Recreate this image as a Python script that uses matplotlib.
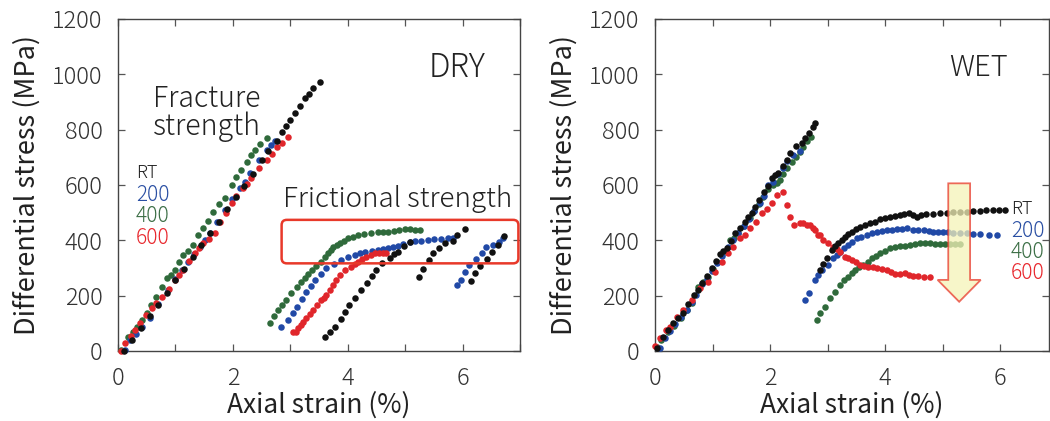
import matplotlib
matplotlib.use("Agg")
import matplotlib.pyplot as plt
import matplotlib.patches as mpatches
from matplotlib.ticker import MultipleLocator

plt.rcParams['font.family'] = ['Noto Sans CJK JP', 'DejaVu Sans']
plt.rcParams['font.weight'] = 'light'

# ---- DRY: axial strain (%) vs differential stress (MPa) ----
dry_rt_x = [0.10, 0.25, 0.40, 0.55, 0.70, 0.85, 1.00, 1.15, 1.30, 1.45, 1.60, 1.75, 1.90, 2.05,
            2.20, 2.35, 2.50, 2.62, 2.76, 2.85, 2.93, 3.00, 3.08, 3.17, 3.25, 3.33, 3.40, 3.51,
            3.60, 3.69, 3.77, 3.88, 3.95, 4.02, 4.12, 4.23, 4.34, 4.42, 4.50, 4.59, 4.73, 4.80,
            4.87, 4.98, 5.08,
            5.24, 5.31, 5.41, 5.48, 5.59, 5.69, 5.83, 5.90, 6.05,
            6.14, 6.22, 6.31, 6.42, 6.51, 6.61, 6.73]
dry_rt_y = [0, 38, 82, 125, 168, 210, 255, 298, 340, 382, 425, 468, 512, 555,
            598, 640, 690, 722, 760, 790, 815, 835, 859, 885, 915, 930, 949, 973,
            52, 70, 88, 116, 140, 166, 190, 220, 247, 270, 293, 317, 335, 350,
            359, 379, 395,
            269, 295, 329, 353, 371, 389, 399, 419, 440,
            253, 281, 307, 331, 359, 383, 416]

dry_200_x = [0.12, 0.21, 0.32, 0.41, 0.56, 0.70, 0.87, 1.00, 1.11, 1.22, 1.33, 1.43, 1.52, 1.60,
             1.73, 1.86, 1.98, 2.12, 2.21, 2.30, 2.45, 2.59, 2.66, 2.73,
             2.83, 2.96, 3.04, 3.11, 3.20, 3.28, 3.36, 3.43, 3.53, 3.63, 3.76, 3.89, 4.00, 4.12,
             4.21, 4.30, 4.42, 4.53, 4.62, 4.70, 4.79, 4.87, 4.97, 5.08, 5.18, 5.28, 5.40, 5.51,
             5.62, 5.74, 5.83,
             5.90, 5.98, 6.05, 6.12, 6.24, 6.33, 6.41, 6.53, 6.64, 6.70]
dry_200_y = [5, 40, 62, 88, 118, 170, 220, 260, 293, 323, 350, 377, 400, 425,
             468, 510, 548, 588, 612, 642, 690, 726, 745, 760,
             88, 112, 136, 160, 188, 214, 236, 257, 280, 299, 316, 329, 338, 347,
             353, 359, 362, 365, 368, 371, 375, 379, 386, 393, 396, 398, 401, 404,
             405, 407, 407,
             238, 257, 287, 311, 331, 355, 377, 383, 395, 407]

dry_400_x = [0.05, 0.18, 0.26, 0.33, 0.42, 0.50, 0.58, 0.67, 0.76, 0.85, 0.92, 0.99, 1.07, 1.14,
             1.22, 1.31, 1.40, 1.48, 1.57, 1.66, 1.76, 1.86, 1.98, 2.06, 2.15, 2.24, 2.31, 2.38,
             2.48, 2.59,
             2.64, 2.72, 2.79, 2.86, 2.93, 3.02, 3.11, 3.18, 3.25, 3.31, 3.37, 3.45, 3.54, 3.60,
             3.66, 3.71, 3.75, 3.81, 3.86, 3.94, 4.01, 4.10, 4.18, 4.28, 4.41, 4.52, 4.62, 4.70,
             4.80, 4.90, 4.99, 5.08, 5.17, 5.25]
dry_400_y = [5, 52, 70, 88, 112, 136, 165, 196, 230, 263, 275, 293, 322, 347,
             362, 383, 418, 443, 470, 503, 530, 552, 600, 630, 655, 684, 708, 726,
             748, 769,
             102, 125, 148, 165, 184, 208, 232, 248, 263, 278, 293, 308, 323, 338,
             353, 366, 377, 383, 389, 398, 407, 413, 419, 423, 428, 430, 431, 431,
             434, 437, 440, 440, 439, 437]

dry_600_x = [0.05, 0.12, 0.22, 0.30, 0.38, 0.48, 0.59, 0.67, 0.76, 0.88, 0.99, 1.07, 1.14, 1.24,
             1.34, 1.41, 1.48, 1.58, 1.69, 1.78, 1.88, 1.98, 2.06, 2.18, 2.25, 2.32, 2.45, 2.59,
             2.68, 2.76, 2.86, 2.96,
             3.05, 3.10, 3.14, 3.19, 3.23, 3.28, 3.34, 3.40, 3.47, 3.54, 3.58, 3.63, 3.69, 3.75,
             3.80, 3.86, 3.95, 4.06, 4.12, 4.18, 4.25, 4.32, 4.40, 4.47, 4.54, 4.61, 4.67]
dry_600_y = [0, 28, 55, 75, 100, 130, 154, 172, 196, 225, 257, 275, 293, 325,
             353, 372, 389, 405, 425, 465, 500, 534, 560, 588, 605, 624, 660, 690,
             712, 738, 752, 774,
             70, 70, 82, 94, 106, 118, 133, 148, 166, 184, 193, 202, 220, 238,
             257, 275, 293, 305, 314, 323, 332, 341, 347, 353, 355, 355, 353]

# ---- WET ----
wet_rt_x = [0.03, 0.14, 0.23, 0.32, 0.40, 0.49, 0.58, 0.67, 0.74, 0.81, 0.90, 0.99, 1.06, 1.13,
            1.19, 1.25, 1.32, 1.39, 1.48, 1.57, 1.62, 1.68, 1.74, 1.80, 1.90, 1.97, 2.03, 2.09,
            2.14, 2.23, 2.30, 2.35, 2.45, 2.55, 2.61, 2.67, 2.74, 2.78,
            2.87, 2.93, 2.99, 3.07, 3.13, 3.19, 3.25, 3.30, 3.36, 3.42, 3.50, 3.57, 3.65, 3.74,
            3.82, 3.91, 4.00, 4.09, 4.17, 4.26, 4.33, 4.41, 4.48, 4.55, 4.63, 4.72, 4.84, 4.96,
            5.07, 5.19, 5.30, 5.42, 5.53, 5.65, 5.76, 5.88, 5.98, 6.09]
wet_rt_y = [10, 52, 75, 100, 118, 136, 170, 202, 222, 245, 272, 299, 325, 351,
            361, 371, 398, 425, 445, 467, 485, 498, 520, 546, 576, 598, 624, 635,
            644, 669, 690, 717, 741, 751, 770, 789, 810, 825,
            293, 315, 335, 365, 378, 389, 401, 413, 422, 431, 440, 449, 455, 461,
            468, 476, 480, 485, 488, 491, 494, 497, 490, 485, 490, 495, 496, 497,
            499, 501, 502, 503, 505, 507, 508, 509, 509, 509]

wet_200_x = [0.08, 0.17, 0.26, 0.35, 0.45, 0.55, 0.64, 0.72, 0.81, 0.90, 0.99, 1.08, 1.17, 1.27,
             1.36, 1.45, 1.54, 1.63, 1.72, 1.82, 1.90, 1.97, 2.06, 2.14, 2.22, 2.30, 2.40, 2.52,
             2.61, 2.67, 2.78, 2.84, 2.90, 3.01, 3.10, 3.16, 3.22, 3.29, 3.36, 3.43, 3.51, 3.59,
             3.68, 3.77, 3.86, 3.94, 4.03, 4.12, 4.20, 4.29, 4.38, 4.49, 4.58, 4.67, 4.76, 4.84,
             4.92, 5.01, 5.10, 5.19, 5.30, 5.42, 5.53, 5.65, 5.80, 5.94]
wet_200_y = [12, 46, 72, 96, 122, 150, 178, 202, 242, 262, 290, 318, 345, 377,
             400, 425, 452, 478, 505, 535, 560, 600, 610, 640, 660, 688, 710, 722,
             184, 208, 257, 275, 293, 311, 335, 347, 359, 371, 383, 395, 407, 413,
             419, 425, 431, 434, 437, 439, 440, 441, 443, 437, 437, 437, 434, 431,
             431, 431, 430, 428, 426, 425, 424, 423, 421, 419]

wet_400_x = [0.03, 0.10, 0.23, 0.33, 0.46, 0.55, 0.65, 0.75, 0.84, 0.93, 1.00, 1.07, 1.17, 1.30,
             1.38, 1.45, 1.55, 1.65, 1.72, 1.80, 1.88, 1.96, 2.06, 2.12, 2.17, 2.23, 2.29, 2.38,
             2.46, 2.52, 2.58, 2.65, 2.72,
             2.81, 2.87, 2.96, 3.04, 3.13, 3.22, 3.29, 3.36, 3.42, 3.48, 3.55, 3.62, 3.70, 3.77,
             3.84, 3.91, 4.00, 4.09, 4.17, 4.26, 4.35, 4.43, 4.52, 4.61, 4.70, 4.78, 4.87, 4.96,
             5.04, 5.13, 5.22, 5.30]
wet_400_y = [16, 40, 70, 92, 118, 148, 175, 232, 250, 269, 296, 323, 352, 401,
             410, 425, 452, 480, 505, 530, 558, 585, 600, 608, 618, 640, 660, 682,
             702, 720, 738, 758, 775,
             112, 136, 160, 190, 214, 238, 255, 269, 282, 293, 302, 311, 323, 335,
             344, 353, 362, 371, 375, 379, 381, 383, 386, 389, 389, 389, 388, 387,
             387, 387, 387, 387]

wet_600_x = [0.00, 0.09, 0.19, 0.26, 0.38, 0.49, 0.64, 0.78, 0.93, 1.04, 1.16, 1.27, 1.36, 1.47,
             1.57, 1.65, 1.76, 1.86, 1.94, 2.03, 2.13, 2.22,
             2.29, 2.35, 2.41, 2.52, 2.58, 2.64, 2.70, 2.75, 2.78, 2.84, 2.87, 2.93, 3.01, 3.10,
             3.16, 3.22, 3.30, 3.36, 3.42, 3.50, 3.57, 3.64, 3.71, 3.79, 3.86, 3.95, 4.03, 4.10,
             4.17, 4.26, 4.35, 4.42, 4.49, 4.58, 4.67, 4.78]
wet_600_y = [18, 46, 76, 88, 124, 148, 184, 227, 250, 287, 323, 353, 377, 407,
             419, 443, 467, 498, 513, 534, 564, 576,
             528, 483, 455, 461, 461, 455, 455, 443, 437, 419, 419, 401, 389, 377,
             368, 359, 341, 335, 329, 320, 311, 308, 305, 302, 299, 296, 293, 285,
             278, 280, 281, 276, 271, 270, 269, 269]

series_labels = ["RT", "200", "400", "600"]
point_colors = ["#111111", "#2149a6", "#2f6a3b", "#e0262b"]
text_colors = ["#222222", "#2a4fa3", "#3b6e45", "#e8262c"]
red_box = "#e8392a"

fig = plt.figure(figsize=(10.5, 4.21), dpi=100)
ax1 = fig.add_axes([118 / 1050, 70 / 421, 402 / 1050, 332 / 421])
ax2 = fig.add_axes([655 / 1050, 70 / 421, 394 / 1050, 332 / 421])

dry = [(dry_rt_x, dry_rt_y), (dry_200_x, dry_200_y), (dry_400_x, dry_400_y), (dry_600_x, dry_600_y)]
wet = [(wet_rt_x, wet_rt_y), (wet_200_x, wet_200_y), (wet_400_x, wet_400_y), (wet_600_x, wet_600_y)]

for ax, data, xmax in [(ax1, dry, 7.0), (ax2, wet, 394 / 57.5)]:
    for i in [2, 1, 3, 0]:
        x, y = data[i]
        ax.scatter(x, y, s=22, color=point_colors[i], linewidths=0, zorder=3, clip_on=False)
    ax.set_xlim(0, xmax)
    ax.set_ylim(0, 1200)
    ax.xaxis.set_major_locator(MultipleLocator(2))
    ax.xaxis.set_minor_locator(MultipleLocator(1))
    ax.yaxis.set_major_locator(MultipleLocator(200))
    ax.tick_params(which="both", direction="in", top=True, right=True, length=5,
                   width=0.9, color="#555555", labelsize=17, labelcolor="#333333", pad=11)
    for sp in ax.spines.values():
        sp.set_color("#444444")
        sp.set_linewidth(1.0)
    ax.set_xlabel("Axial strain (%)", fontsize=19, color="#222222", labelpad=0)
    ax.set_ylabel("Differential stress (MPa)", fontsize=19.5, color="#222222", labelpad=8)

# DRY annotations
ax1.text(5.91, 1023, "DRY", fontsize=23, color="#222222", ha="center", va="center")
ax1.text(0.61, 968, "Fracture\nstrength", fontsize=20.5, color="#222222", ha="left", va="top",
         linespacing=0.92)
ax1.text(2.87, 548, "Frictional strength", fontsize=20, color="#222222", ha="left", va="center")
box = mpatches.FancyBboxPatch((0.407, 0.264), 0.589, 0.131, transform=ax1.transAxes,
                              boxstyle="round,pad=0,rounding_size=0.013", mutation_aspect=402 / 332,
                              fill=False, edgecolor=red_box, linewidth=1.8, clip_on=False, zorder=4)
ax1.add_patch(box)
for i, lab in enumerate(series_labels):
    ax1.text(0.31, 643 - i * 78, lab, fontsize=15 if i else 13, color=text_colors[i],
             ha="left", va="center")

# WET annotations
ax2.text(5.62, 1023, "WET", fontsize=21, color="#222222", ha="center", va="center")
arrow = mpatches.FancyArrow(5.29, 606, 0, -428, width=0.38, head_width=0.75, head_length=79,
                            length_includes_head=True, facecolor="#f5f3b8", edgecolor=red_box,
                            linewidth=1.3, alpha=0.75, zorder=5)
ax2.add_patch(arrow)
for i, lab in enumerate(series_labels):
    ax2.text(6.19, 512 - i * 77, lab, fontsize=15 if i else 13, color=text_colors[i],
             ha="left", va="center", clip_on=False)

fig.savefig("out.png", dpi=100)
